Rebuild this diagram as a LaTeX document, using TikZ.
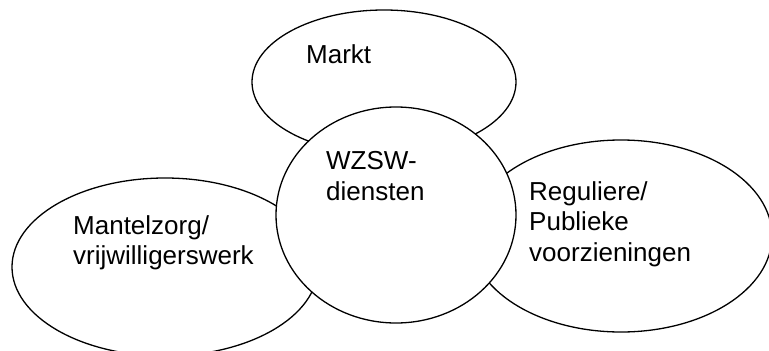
\documentclass[tikz,border=0pt]{standalone}
\usepackage{fontspec}
\setmainfont{Liberation Sans}
\usetikzlibrary{shapes.geometric}
\begin{document}
\begin{tikzpicture}[x=1pt,y=-1pt,
  blob/.style={ellipse,draw=black,fill=white,line width=1.3pt,inner sep=0pt},
  lbl/.style={anchor=base west,inner sep=0pt,font=\fontsize{26}{30}\selectfont}]
\useasboundingbox (0,0) rectangle (769,351);
\node[blob,minimum width=264pt,minimum height=144pt] (markt) at (384,82) {};
\node[blob,minimum width=306pt,minimum height=178pt] (mantel) at (165,267) {};
\node[blob,minimum width=302pt,minimum height=192pt] (regul) at (621,236) {};
\node[blob,minimum width=240pt,minimum height=216pt] (wzsw) at (396,215) {};
\node[lbl] (tmarkt) at (306,63) {Markt};
\node[lbl] (tw1) at (326,169) {WZSW-};
\node[lbl] (tw2) at (326,200) {diensten};
\node[lbl] (tm1) at (73,234) {Mantelzorg/};
\node[lbl] (tm2) at (73,264) {vrijwilligerswerk};
\node[lbl] (tr1) at (529,200) {Reguliere/};
\node[lbl] (tr2) at (529,230.5) {Publieke};
\node[lbl] (tr3) at (529,261) {voorzieningen};
\end{tikzpicture}
\end{document}
